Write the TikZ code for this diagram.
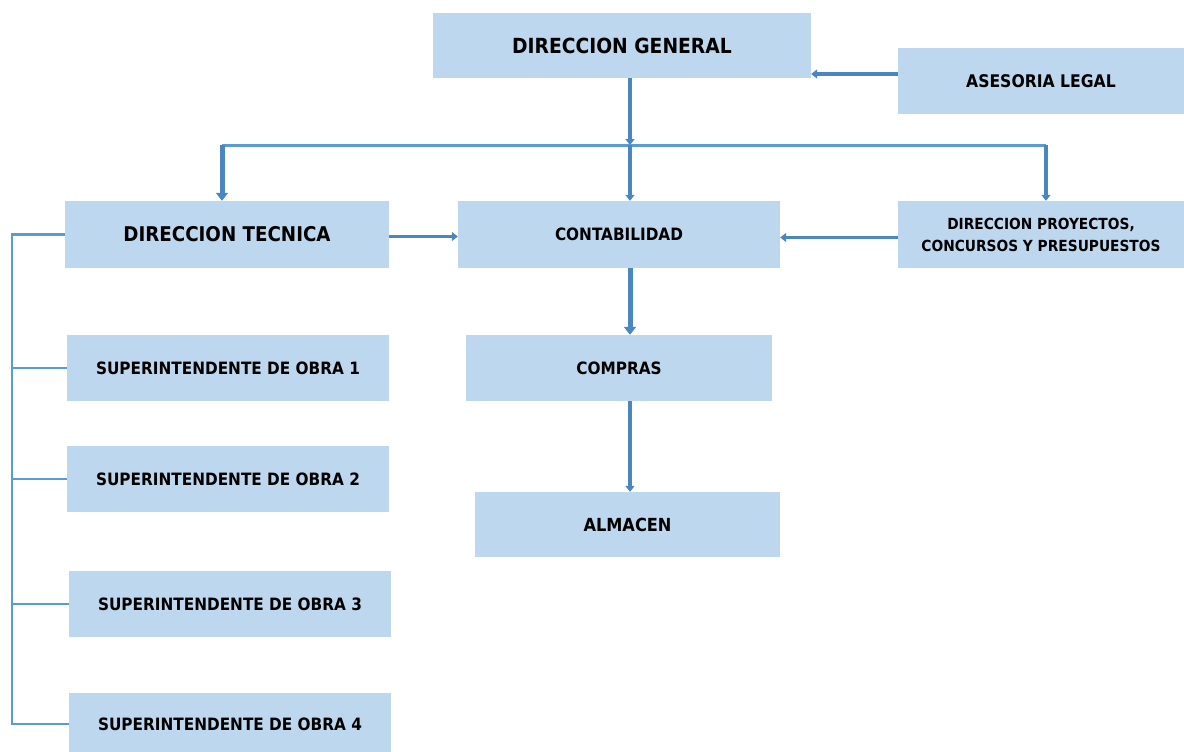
\documentclass[tikz,border=0pt]{standalone}
\usepackage{fontspec}
\setmainfont{DejaVu Sans Condensed}
\usepackage{tikz}
\usetikzlibrary{arrows.meta}
\definecolor{boxfill}{HTML}{BDD7EE}
\definecolor{linkblue}{HTML}{5B9BD5}
\definecolor{arrowblue}{HTML}{4A86C0}
\tikzstyle{unit} = [rectangle, fill=boxfill, inner sep=0pt, text centered, font=\bfseries\fontsize{17}{20}\selectfont]
\tikzstyle{bigunit} = [unit, font=\bfseries\fontsize{20.8}{24}\selectfont]
\tikzstyle{smallunit} = [unit, font=\bfseries\fontsize{15.3}{22}\selectfont]
\tikzstyle{arrow} = [line width=5pt, draw=arrowblue, -{Triangle[width=12pt,length=8pt]}]
\tikzstyle{thinarrow} = [line width=3.5pt, draw=arrowblue, -{Triangle[width=9pt,length=6pt]}]
\tikzstyle{bus} = [line width=3pt, draw=linkblue]
\tikzstyle{bracket} = [line width=2.5pt, draw=linkblue]

\begin{document}
\begin{tikzpicture}[x=1pt, y=-1pt]
  \useasboundingbox (0,0) rectangle (1184,752);
  % top level
  \node [bigunit, minimum width=378pt, minimum height=65pt] (general) at (622,45.5) {DIRECCION GENERAL};
  \node [unit, font=\bfseries\fontsize{17.4}{20}\selectfont, minimum width=286pt, minimum height=66pt] (legal) at (1041,81) {ASESORIA LEGAL};
  % second level
  \node [bigunit, font=\bfseries\fontsize{20.3}{24}\selectfont, minimum width=324pt, minimum height=67pt] (tecnica) at (227,234.5) {DIRECCION TECNICA};
  \node [unit, minimum width=322pt, minimum height=67pt] (conta) at (619,234.5) {CONTABILIDAD};
  \node [smallunit, align=center, minimum width=286pt, minimum height=67pt] (proyectos) at (1041,234.5) {DIRECCION PROYECTOS,\\CONCURSOS Y PRESUPUESTOS};
  \node [unit, minimum width=306pt, minimum height=66pt] (compras) at (619,368) {COMPRAS};
  \node [unit, font=\bfseries\fontsize{18}{20}\selectfont, minimum width=305pt, minimum height=65pt] (almacen) at (627.5,524.5) {ALMACEN};
  % superintendentes
  \node [unit, minimum width=322pt, minimum height=66pt] (sup1) at (228,368) {SUPERINTENDENTE DE OBRA 1};
  \node [unit, minimum width=322pt, minimum height=66pt] (sup2) at (228,479) {SUPERINTENDENTE DE OBRA 2};
  \node [unit, minimum width=322pt, minimum height=66pt] (sup3) at (230,604) {SUPERINTENDENTE DE OBRA 3};
  \node [unit, minimum width=322pt, minimum height=62pt] (sup4) at (230,724) {SUPERINTENDENTE DE OBRA 4};

  \coordinate (split) at (630,145);
  \coordinate (splitl) at (222,145);
  \coordinate (splitr) at (1046,145);
  \coordinate (trunk) at (12,234);

  \draw [thinarrow] ([yshift=7pt]legal.west) -- ([yshift=7pt]legal.west -| general.east);
  \draw [thinarrow] (general.south -| split) -- (split);
  \draw [bus] (splitl) -- (splitr);
  \draw [arrow] (splitl) -- (splitl |- tecnica.north);
  \draw [thinarrow] (split) -- (split |- conta.north);
  \draw [thinarrow] (splitr) -- (splitr |- proyectos.north);
  \draw [thinarrow] ([yshift=-2pt]tecnica.east) -- ([yshift=-2pt]tecnica.east -| conta.west);
  \draw [thinarrow] ([yshift=-3pt]proyectos.west) -- ([yshift=-3pt]proyectos.west -| conta.east);
  \draw [arrow] (conta.south -| split) -- (compras.north -| split);
  \draw [thinarrow] (compras.south -| split) -- (almacen.north -| split);

  \draw [bracket] (tecnica.west) -- (tecnica.west -| trunk) -- (trunk |- sup4.west) -- (sup4.west);
  \foreach \s in {sup1,sup2,sup3}
    \draw [bracket] (trunk |- \s.west) -- (\s.west);
\end{tikzpicture}
\end{document}
